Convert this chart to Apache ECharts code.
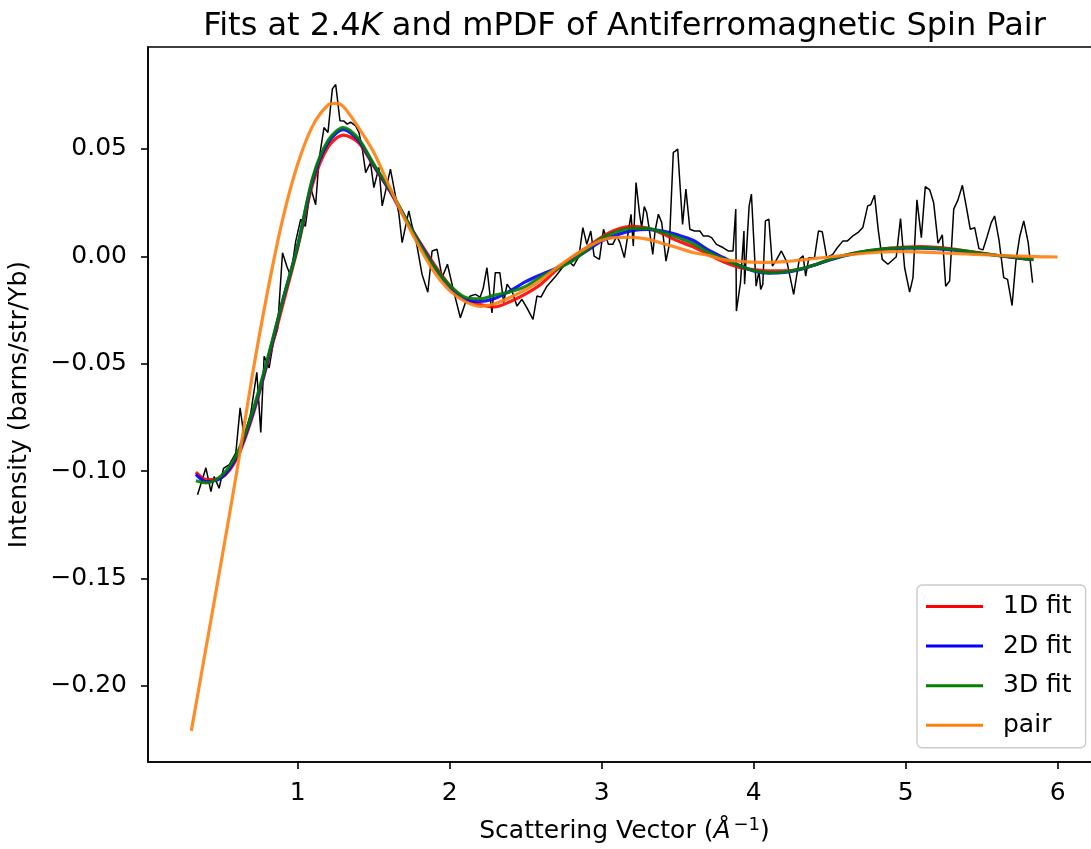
<!DOCTYPE html>
<html>
<head>
<meta charset="utf-8">
<script src="https://cdn.jsdelivr.net/npm/echarts@6/dist/echarts.min.js"></script>
<style>
html,body{margin:0;padding:0;width:1091px;height:849px;overflow:hidden;background:#fff;}
#c{width:1249px;height:849px;}
</style>
</head>
<body>
<div id="c"></div>
<script>
// ---- measured data (black, noisy) ----
const dataQ = [
0.341,0.396,0.429,0.450,0.483,0.512,0.550,0.593,0.621,0.647,
0.691,0.731,0.757,0.779,0.812,0.840,0.867,0.900,0.930,0.954,
0.987,1.020,1.050,1.085,1.118,1.140,1.173,1.199,1.228,1.250,
1.278,1.304,1.326,1.348,1.381,1.403,1.425,1.447,1.479,1.501,
1.534,1.556,1.583,1.610,1.643,1.665,1.687,1.731,1.753,1.775,
1.797,1.818,1.856,1.884,1.917,1.950,1.985,2.026,2.070,2.103,
2.136,2.169,2.200,2.220,2.245,2.278,2.300,2.330,2.355,2.377,
2.410,2.443,2.475,2.508,2.548,2.574,2.600,2.640,2.700,2.749,
2.780,2.815,2.850,2.876,2.902,2.928,2.950,2.985,3.012,3.044,
3.073,3.100,3.120,3.149,3.171,3.193,3.208,3.226,3.248,3.263,
3.280,3.296,3.313,3.336,3.351,3.373,3.395,3.423,3.445,3.471,
3.485,3.500,3.532,3.554,3.580,3.610,3.646,3.668,3.700,3.723,
3.755,3.800,3.832,3.864,3.882,3.886,3.913,3.936,3.940,3.970,
3.985,4.016,4.035,4.046,4.060,4.077,4.100,4.123,4.145,4.182,
4.220,4.263,4.300,4.325,4.342,4.363,4.400,4.426,4.451,4.481,
4.520,4.550,4.586,4.615,4.652,4.685,4.718,4.750,4.770,4.795,
4.820,4.846,4.883,4.938,4.966,4.993,5.026,5.048,5.074,5.103,
5.129,5.158,5.184,5.213,5.241,5.263,5.289,5.316,5.344,5.373,
5.400,5.425,5.454,5.482,5.508,5.535,5.563,5.585,5.614,5.645,
5.670,5.700,5.725,5.751,5.777,5.806,5.835
];
const dataI = [
-0.111,-0.0985,-0.1096,-0.1026,-0.108,-0.0987,-0.097,-0.0915,-0.0706,-0.0839,
-0.073,-0.054,-0.082,-0.0465,-0.052,-0.040,-0.034,0.0017,-0.005,-0.0092,
0.0071,0.0173,0.014,0.032,0.024,0.045,0.060,0.0577,0.078,0.080,
0.0632,0.063,0.0616,0.0625,0.0608,0.0577,0.050,0.039,0.0437,0.032,
0.0414,0.0235,0.032,0.0406,0.0282,0.020,0.0064,0.0212,0.014,0.0087,
0.000,-0.0084,-0.0167,0.0025,0.0033,-0.0099,-0.0037,-0.0162,-0.0286,-0.0216,
-0.0185,-0.0177,-0.019,-0.015,-0.0053,-0.0263,-0.0076,-0.0076,-0.0216,-0.013,
-0.0162,-0.0232,-0.020,-0.024,-0.0294,-0.0185,-0.019,-0.0139,-0.009,-0.0045,
-0.002,-0.0045,0.000,0.0134,0.0056,0.0118,0.0001,-0.0014,0.0126,0.0056,
0.0056,0.0095,0.0064,-0.0006,0.0095,0.0196,0.0048,0.0344,0.0204,0.0134,
0.0232,0.0204,0.0126,0.0009,0.0118,0.0196,0.0157,-0.0022,0.0056,0.0484,
0.049,0.050,0.0149,0.0313,0.0126,0.0118,0.0118,0.0095,0.0095,0.0087,
0.0056,0.004,0.0025,0.0025,0.022,-0.0255,-0.0123,0.0118,-0.013,0.0235,
0.029,-0.0139,-0.0069,-0.0154,-0.013,0.0165,0.0173,-0.0045,-0.0022,0.0025,
-0.0029,-0.0177,-0.0014,0.0002,-0.0092,-0.0006,-0.0006,0.0118,0.0115,-0.0006,
0.0009,0.004,0.0071,0.0071,0.0095,0.011,0.0134,0.0235,0.024,0.0285,
0.012,-0.0014,-0.0037,-0.0002,0.0176,-0.0053,-0.0167,-0.0099,0.0263,0.0087,
0.0325,0.031,0.025,0.0061,0.010,-0.0139,-0.0115,0.022,0.0263,0.0331,
0.0227,0.0126,0.0134,0.0036,0.003,0.009,0.0157,0.0188,0.0076,-0.0099,
-0.0107,-0.0229,-0.0022,0.0095,0.0165,0.0064,-0.0123
];

// ---- fit curves ----
const fitQ = [0.33,0.4,0.5,0.6,0.7,0.8,0.9,1.0,1.1,1.2,1.3,1.4,1.5,1.6,1.7,1.8,1.9,2.0,2.1,2.2,2.3,2.4,2.5,2.6,2.7,2.8,2.9,3.0,3.1,3.2,3.3,3.4,3.5,3.6,3.7,3.8,3.9,4.0,4.1,4.2,4.3,4.4,4.5,4.6,4.7,4.8,4.9,5.0,5.1,5.2,5.3,5.4,5.5,5.6,5.7,5.8,5.84];
const fit1D = [-0.1005,-0.104,-0.103,-0.094,-0.075,-0.050,-0.023,0.004,0.034,0.051,0.0565,0.053,0.042,0.031,0.0185,0.007,-0.004,-0.0135,-0.020,-0.0225,-0.0235,-0.021,-0.0175,-0.013,-0.0065,-0.001,0.004,0.009,0.0125,0.014,0.0132,0.0105,0.0072,0.0045,0.001,-0.0025,-0.005,-0.0062,-0.0068,-0.0068,-0.006,-0.004,-0.0015,0.0005,0.002,0.003,0.0038,0.0043,0.0045,0.0042,0.0035,0.0025,0.0015,0.0005,-0.0004,-0.0013,-0.0015];
const fit2D = [-0.1015,-0.105,-0.103,-0.093,-0.074,-0.049,-0.021,0.005,0.036,0.053,0.059,0.054,0.0425,0.0315,0.019,0.0065,-0.005,-0.0145,-0.020,-0.021,-0.0195,-0.016,-0.0118,-0.0085,-0.0055,-0.002,0.0025,0.0072,0.010,0.012,0.0126,0.0118,0.010,0.0075,0.003,-0.0005,-0.004,-0.0068,-0.0078,-0.0075,-0.0062,-0.004,-0.0017,0.0003,0.0018,0.0028,0.0035,0.0038,0.0038,0.0036,0.003,0.0022,0.0013,0.0004,-0.0004,-0.0012,-0.0014];
const fit3D = [-0.1045,-0.1055,-0.102,-0.092,-0.073,-0.048,-0.021,0.005,0.037,0.054,0.060,0.0548,0.043,0.032,0.019,0.006,-0.005,-0.0135,-0.019,-0.0198,-0.018,-0.0165,-0.014,-0.0095,-0.006,-0.0025,0.003,0.0085,0.0115,0.013,0.013,0.0112,0.0088,0.006,0.002,-0.0012,-0.0042,-0.0066,-0.0076,-0.0073,-0.006,-0.004,-0.0015,0.0005,0.002,0.003,0.0037,0.004,0.0041,0.0039,0.0033,0.0024,0.0014,0.0005,-0.0003,-0.0012,-0.0014];

// ---- antiferromagnetic spin pair mPDF ----
const pairQ = [0.3,0.4,0.5,0.6,0.7,0.8,0.9,1.0,1.1,1.2,1.25,1.3,1.4,1.5,1.6,1.7,1.8,1.9,2.0,2.1,2.2,2.3,2.4,2.5,2.6,2.7,2.8,2.9,3.0,3.1,3.2,3.3,3.4,3.5,3.6,3.7,3.8,3.9,4.0,4.1,4.2,4.3,4.4,4.5,4.6,4.7,4.8,4.9,5.0,5.1,5.2,5.3,5.4,5.5,5.6,5.7,5.8,5.9,6.0];
const pairI = [-0.221,-0.181,-0.141,-0.100,-0.056,-0.017,0.017,0.043,0.061,0.0705,0.0712,0.0698,0.0600,0.0485,0.033,0.018,0.0045,-0.0075,-0.016,-0.021,-0.0233,-0.022,-0.019,-0.0155,-0.011,-0.0055,-0.0005,0.004,0.0075,0.0088,0.0088,0.008,0.006,0.004,0.0018,0.0005,-0.0015,-0.0022,-0.0027,-0.0028,-0.0025,-0.0018,-0.001,-0.0003,0.0005,0.0012,0.0018,0.0022,0.0022,0.002,0.0017,0.0014,0.0011,0.0008,0.0005,0.0002,0.0,-0.0002,-0.0003];

// ---- ticks ----
const xTicks = [1,2,3,4,5,6];
const yTicks = [-0.20,-0.15,-0.10,-0.05,0.00,0.05];

const zip = (a,b) => a.map((v,i)=>[v,b[i]]);
const FONT = 'DejaVu Sans';
const fmtY = v => (v<0 ? '\u2212' : '') + Math.abs(v).toFixed(2);

const chart = echarts.init(document.getElementById('c'), null, {renderer:'canvas'});
const fitLine = (name, color, q, y, z) => ({
  name, type:'line', data: zip(q,y), showSymbol:false, symbol:'none', smooth:0.3,
  color, z, lineStyle:{color, width:3.2, opacity:0.9}, emphasis:{disabled:true}
});
chart.setOption({
  animation:false,
  title:{
    left:'center', top:6,
    text:'{n|Fits at 2.4}{i|K}{n| and mPDF of Antiferromagnetic Spin Pair}',
    textStyle:{fontWeight:'normal', rich:{
      n:{fontFamily:FONT,fontSize:32,color:'#000',fontWeight:'normal'},
      i:{fontFamily:FONT,fontSize:32,color:'#000',fontWeight:'normal',fontStyle:'italic'}
    }}
  },
  grid:{left:148, top:47, width:953, height:715, show:true, borderColor:'#000', borderWidth:1.6, outerBoundsMode:'none', containLabel:false},
  legend:{
    orient:'vertical', left:917, top:585,
    icon:'rect', itemWidth:57, itemHeight:3, itemGap:14.6,
    padding:[9,14,10,9],
    backgroundColor:'#fff', borderColor:'#cccccc', borderWidth:1.4, borderRadius:5,
    textStyle:{fontFamily:FONT, fontSize:25, color:'#000', lineHeight:25, padding:[0,0,0,15]},
    data:['1D fit','2D fit','3D fit','pair']
  },
  xAxis:{
    type:'value', min:0.015, max:6.285,
    axisLine:{show:true, onZero:false, lineStyle:{color:'#000', width:1.6}},
    axisTick:{show:true, length:7, lineStyle:{color:'#000', width:1.6}, customValues:xTicks},
    axisLabel:{fontFamily:FONT, fontSize:25, color:'#000', margin:19, customValues:xTicks, formatter:v=>String(v)},
    splitLine:{show:false},
    name:'{n|Scattering Vector (}{i|\u00c5}{s|\u22121}{n|)}',
    nameLocation:'middle', nameGap:54,
    nameTextStyle:{rich:{
      n:{fontFamily:FONT,fontSize:25,color:'#000',lineHeight:30},
      i:{fontFamily:FONT,fontSize:25,color:'#000',fontStyle:'italic',lineHeight:30},
      s:{fontFamily:FONT,fontSize:18,color:'#000',verticalAlign:'top',lineHeight:30,padding:[0,0,12,3]}
    }}
  },
  yAxis:{
    type:'value', min:-0.2355, max:0.0975,
    axisLine:{show:true, onZero:false, lineStyle:{color:'#000', width:1.6}},
    axisTick:{show:true, length:7, lineStyle:{color:'#000', width:1.6}, customValues:yTicks},
    axisLabel:{fontFamily:FONT, fontSize:25, color:'#000', margin:21, customValues:yTicks, formatter:fmtY},
    splitLine:{show:false},
    name:'Intensity (barns/str/Yb)', nameLocation:'middle', nameGap:116,
    nameTextStyle:{fontFamily:FONT, fontSize:25, color:'#000'}
  },
  series:[
    {name:'data', type:'line', data:zip(dataQ,dataI), showSymbol:false, symbol:'none', z:1,
     lineStyle:{color:'#000', width:1.5}, color:'#000', emphasis:{disabled:true}},
    fitLine('1D fit','#ff0000',fitQ,fit1D,2),
    fitLine('2D fit','#0000ff',fitQ,fit2D,3),
    fitLine('3D fit','#008000',fitQ,fit3D,4),
    fitLine('pair','#ff7f0e',pairQ,pairI,5)
  ]
});
</script>
</body>
</html>
